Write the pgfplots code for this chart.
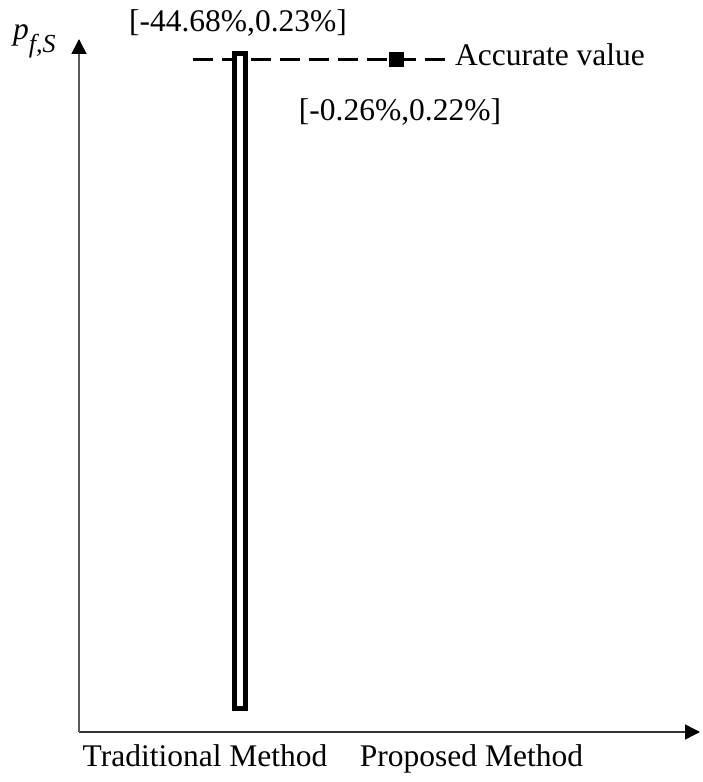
\documentclass[border=0pt]{standalone}
\usepackage{fontspec}
\setmainfont{Liberation Serif}
\usepackage{pgfplots}
\pgfplotsset{compat=1.18}
\usetikzlibrary{arrows.meta}
\begin{document}
\begin{tikzpicture}
\begin{axis}[
  scale only axis,
  width=621pt, height=693pt,
  xmin=79, xmax=700, ymin=50, ymax=743,
  axis lines=left,
  x axis line style={black!80, line width=1.5pt, -{Triangle[length=15pt,width=15pt,fill=black,color=black]}},
  y axis line style={black!65, line width=1.5pt, -{Triangle[length=15pt,width=15pt,fill=black,color=black]}},
  xtick=\empty, ytick=\empty,
  clip=false,
  font=\fontsize{31.5}{38}\selectfont,
]
% bounding box of the whole picture
\path[draw=none] (axis cs:0,0) rectangle (axis cs:702,782);
% accurate value (dashed)
\addplot[black, line width=3pt, dash pattern=on 20pt off 9pt] coordinates {(193,722) (447,722)};
% traditional method range [-44.68%, 0.23%]
\addplot[black, line width=5pt, fill=white, line join=miter] coordinates {(234.5,73.5) (245.5,73.5) (245.5,728.5) (234.5,728.5)} -- cycle;
% proposed method range [-0.26%, 0.22%]
\addplot[only marks, mark=square*, mark size=7pt, black] coordinates {(396.5,722.5)};
\node[anchor=base] at (axis cs:238,750) {[-44.68\%,0.23\%]};
\node[anchor=base] at (axis cs:400,661) {[-0.26\%,0.22\%]};
\node[anchor=base west, inner sep=0pt] at (axis cs:455,716) {Accurate value};
\node[anchor=base, inner sep=0pt] at (axis cs:205,16) {Traditional Method};
\node[anchor=base, inner sep=0pt] at (axis cs:471.5,16) {Proposed Method};
\node[anchor=base west, inner sep=0pt] at (axis cs:13,742) {\textit{p}\raisebox{-13pt}{\fontsize{26}{26}\selectfont\textit{f,S}}};
\end{axis}
\end{tikzpicture}
\end{document}
